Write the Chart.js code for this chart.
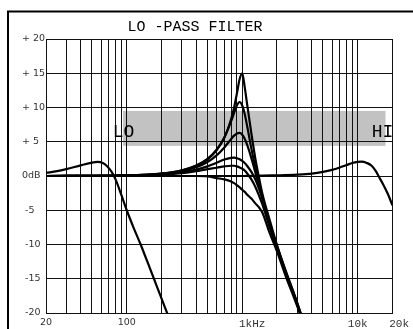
<!DOCTYPE html>
<html><head><meta charset="utf-8">
<script src="https://cdn.jsdelivr.net/npm/chart.js@4"></script>
<style>html,body{margin:0;padding:0;background:#fff;overflow:hidden}canvas{display:block}</style>
</head><body>
<canvas id="c" width="413" height="329"></canvas>
<script>
// ---- text & ticks ----
const chartTitle = 'LO -PASS FILTER';
const gridFreqs = [20,30,40,50,60,70,80,90,100,200,300,400,500,600,700,800,900,1000,2000,3000,4000,5000,6000,7000,8000,9000,10000,20000];
const xTickLabels = {20:'20', 100:'100', 1000:'   1kHz', 10000:'10k', 20000:'  20k'};
const yTickValues = [20,15,10,5,0,-5,-10,-15,-20];
const yTickLabels = ['+ 20','+ 15','+ 10','+ 5','0dB',' -5',' -10',' -15',' -20'];
// ---- shaded range ----
const bandFreqs = [93, 17400];
const bandDb = [4.4, 9.5];
const bandLabels = ['LO', 'HI'];
// ---- resonant family around 1 kHz ----
const familyFreqs = [20,100,200,300,400,500,600,700,800,850,900,950,1000,1050,1100,1200,1300,1400,1500,1700,2000,2400,2800,3200];
const peak15 = [0,0.09,0.35,0.8,1.48,2.44,3.76,5.6,8.24,10.0,12.08,14.17,15.0,13.0,10.6,6.2,2.5,-0.3,-2.7,-6.0,-10.1,-14.2,-17.4,-20.2];
const peak11 = [0,0.09,0.36,0.83,1.53,2.5,3.83,5.62,7.96,9.2,10.33,10.8,10.3,9.1,7.4,4.0,1.2,-1.1,-3.2,-6.4,-10.4,-14.3,-17.4,-20.2];
const peak6  = [0,0.08,0.31,0.7,1.27,2.04,3.01,4.17,5.38,5.89,6.22,6.29,6.02,5.43,4.6,2.6,0.5,-1.5,-3.3,-6.5,-10.2,-14.0,-17.1,-20.0];
const peak3  = [0,0.06,0.24,0.53,0.93,1.41,1.94,2.41,2.65,2.68,2.6,2.45,2.2,1.9,1.5,0.6,-0.5,-1.9,-3.4,-6.6,-10.4,-14.2,-17.2,-20.0];
const peak1  = [0,0.04,0.19,0.41,0.7,1.0,1.2,1.4,1.5,1.5,1.4,1.25,1.05,0.8,0.4,-0.5,-1.6,-2.9,-4.2,-7.1,-10.6,-14.4,-17.3,-20.0];
const peak0  = [0,0,0,0,0,-0.05,-0.3,-0.5,-0.8,-1.05,-1.35,-1.65,-2.0,-2.3,-2.7,-3.3,-4.0,-4.6,-5.4,-8.0,-11.0,-14.8,-17.7,-20.3];
// ---- LO setting ----
const loFreqs = [20,25,30,40,50,56,62,68,74,80,90,100,115,132,150,172,195,225];
const loDb    = [0.45,0.7,1.0,1.55,1.95,2.05,1.9,1.4,0.6,-0.5,-2.8,-5.0,-7.6,-10.0,-12.4,-15.0,-17.4,-20.1];
// ---- HI setting ----
const hiFreqs = [20,1000,2000,3000,4000,5000,6000,7000,8000,9000,10000,10800,12000,13200,14300,15300,16700,18200,20000];
const hiDb    = [0,0,0.1,0.2,0.35,0.6,0.9,1.25,1.6,1.9,2.05,2.1,1.9,1.5,0.75,-0.15,-1.3,-2.6,-4.3];

const toPts = (fs, vs) => fs.map((f, i) => ({x: f, y: vs[i]}));
const series = [
  toPts(familyFreqs, peak15), toPts(familyFreqs, peak11), toPts(familyFreqs, peak6),
  toPts(familyFreqs, peak3), toPts(familyFreqs, peak1), toPts(familyFreqs, peak0),
  toPts(loFreqs, loDb), toPts(hiFreqs, hiDb)
];

const decor = {
  id: 'decor',
  beforeDraw(chart) {
    const {ctx, scales: {x, y}} = chart;
    ctx.save();
    ctx.strokeStyle = '#000'; ctx.lineWidth = 2;
    ctx.strokeRect(8, 11.5, 430, 340);
    const x0 = x.getPixelForValue(bandFreqs[0]), x1 = x.getPixelForValue(bandFreqs[1]);
    const y0 = y.getPixelForValue(bandDb[1]), y1 = y.getPixelForValue(bandDb[0]);
    ctx.fillStyle = '#c2c2c2';
    ctx.fillRect(x0, y0, x1 - x0, y1 - y0);
    ctx.restore();
  },
  afterDraw(chart) {
    const {ctx, scales: {x, y}} = chart;
    ctx.save();
    ctx.fillStyle = '#000';
    ctx.textAlign = 'center'; ctx.textBaseline = 'alphabetic';
    ctx.font = '15px "Liberation Mono"';
    ctx.fillText(chartTitle, 195, 30.5);
    const x0 = x.getPixelForValue(bandFreqs[0]), x1 = x.getPixelForValue(bandFreqs[1]);
    const yb = y.getPixelForValue(bandDb[0]) - 9;
    ctx.font = '18px "Liberation Mono"';
    ctx.fillText(bandLabels[0], x0 + 0.5, yb);
    ctx.fillText(bandLabels[1], x1 - 3, yb);
    ctx.restore();
  }
};

new Chart(document.getElementById('c'), {
  type: 'line',
  data: { datasets: series.map(d => ({ data: d })) },
  options: {
    responsive: false, animation: false, devicePixelRatio: 1,
    layout: { padding: { left: 22, right: 17, top: 39, bottom: 0 } },
    plugins: { legend: { display: false }, tooltip: { enabled: false }, title: { display: false } },
    elements: {
      point: { radius: 0 },
      line: { borderWidth: 2.2, borderColor: '#000', cubicInterpolationMode: 'monotone', fill: false }
    },
    scales: {
      x: {
        type: 'logarithmic', min: 20, max: 20000,
        afterBuildTicks: s => { s.ticks = gridFreqs.map(v => ({ value: v })); },
        afterFit: s => { s.height = 16; },
        grid: { color: '#111', lineWidth: 1, drawTicks: false },
        border: { color: '#111' },
        ticks: {
          autoSkip: false, maxRotation: 0, minRotation: 0, padding: 4, color: '#333',
          callback: v => (xTickLabels[v] !== undefined ? xTickLabels[v] : ''),
          font: ctx => (ctx.tick && ctx.tick.value <= 100)
            ? { family: 'DejaVu Sans', size: 9.5 }
            : { family: 'Liberation Mono', size: 11 }
        }
      },
      y: {
        min: -20, max: 20,
        afterBuildTicks: s => { s.ticks = yTickValues.map(v => ({ value: v })); },
        afterFit: s => { s.width = 24; },
        grid: { color: '#111', lineWidth: 1, drawTicks: false },
        border: { color: '#111' },
        ticks: {
          crossAlign: 'far', padding: 2, color: '#333',
          font: { family: 'DejaVu Sans', size: 9.5 },
          callback: v => { const i = yTickValues.indexOf(v); return i >= 0 ? yTickLabels[i] : ''; }
        }
      }
    }
  },
  plugins: [decor]
});
</script>
</body></html>
